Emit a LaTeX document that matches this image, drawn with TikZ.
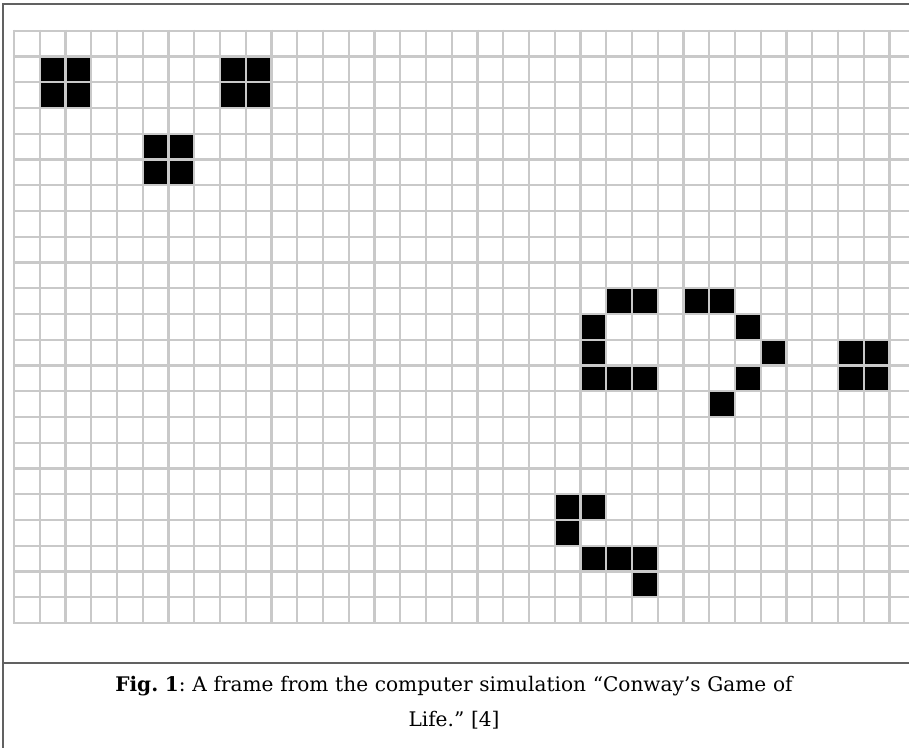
\documentclass[tikz,border=0pt]{standalone}
\usepackage{fontspec}
\setmainfont{DejaVu Serif}
\frenchspacing
\begin{document}
\begin{tikzpicture}[
    x=1pt, y=-1pt,
    gridline/.style={draw=black!21, line width=2.2pt},
    frameline/.style={draw=black!62, line width=1.6pt},
    alive/.style={fill=black},
    caption/.style={font=\fontsize{20.1}{35}\selectfont, align=center, text width=850pt}
]
    \useasboundingbox (0,0) rectangle (909,747);
    \begin{scope}
    \clip (0,0) rectangle (909,747);

    % Grid lines
    \foreach \r in {0,...,23} {
        \pgfmathsetmacro{\yy}{30.7+25.75*\r}
        \draw[gridline] (12.9,\yy) -- (915,\yy);
    }
    \foreach \c in {0,...,35} {
        \pgfmathsetmacro{\xx}{14+25.75*\c}
        \draw[gridline] (\xx,29.6) -- (\xx,623.9);
    }

    % Live cells (column/row)
    \foreach \c/\r in {1/1, 2/1, 1/2, 2/2,
                       8/1, 9/1, 8/2, 9/2,
                       5/4, 6/4, 5/5, 6/5,
                       23/10, 24/10, 26/10, 27/10,
                       22/11, 28/11,
                       22/12, 29/12, 32/12, 33/12,
                       22/13, 23/13, 24/13, 28/13, 32/13, 33/13,
                       27/14,
                       21/18, 22/18, 21/19,
                       22/20, 23/20, 24/20, 24/21} {
        \fill[alive] ({14+25.75*\c+1.1},{30.7+25.75*\r+1.1}) rectangle +(23.55,23.55);
    }

    % Frame
    \draw[frameline] (3,750) -- (3,4) -- (912,4);
    \draw[frameline] (3,663) -- (912,663);
    \end{scope}

    % Caption
    \node[caption] (caption) at (454,703) {\textbf{Fig. 1}: A frame from the computer simulation “Conway’s Game of\\ Life.” [4]};
\end{tikzpicture}
\end{document}
